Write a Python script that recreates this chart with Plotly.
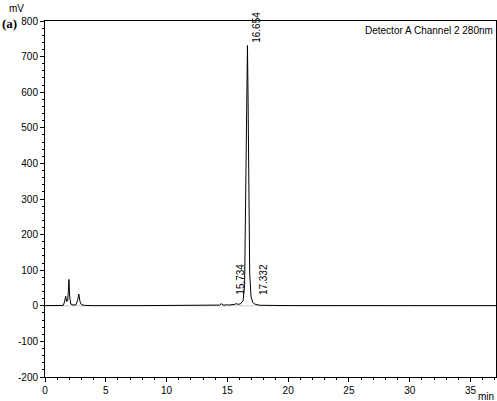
import plotly.graph_objects as go

# Chromatogram vertices (time in min, signal in mV)
time_min = [0.0, 1.0, 1.5, 1.6, 1.7, 1.78, 1.86, 1.92, 1.97, 2.03, 2.12, 2.3, 2.55, 2.68, 2.78, 2.88,
            3.0, 3.3, 4.0, 8.0, 14.0, 14.35, 14.5, 14.65, 14.9, 15.0, 15.1, 15.4, 15.6, 15.734,
            15.9, 16.1, 16.3, 16.42, 16.52, 16.6, 16.654, 16.7, 16.76, 16.84, 16.95, 17.1, 17.25,
            17.332, 17.45, 17.7, 18.5, 20.0, 30.0, 37.1]
signal_mv = [0.5, 0.5, 1.0, 10.0, 27.0, 12.0, 14.0, 40.0, 74.0, 25.0, 5.0, 2.0, 3.0, 15.0, 33.0, 12.0,
             3.0, 1.0, 0.5, 0.5, 0.8, 2.0, 6.0, 2.0, 2.0, 4.0, 2.0, 2.0, 4.0, 6.0,
             4.0, 6.0, 15.0, 60.0, 300.0, 620.0, 731.0, 600.0, 300.0, 90.0, 25.0, 9.0, 5.0,
             5.0, 3.0, 1.5, 1.0, 0.6, 0.5, 0.5]

peak_times = [15.734, 16.654, 17.332]
peak_labels = ["15.734", "16.654", "17.332"]
label_y = [25, 733, 25]
label_dx = [4, 9, 8]

x_ticks = [0, 5, 10, 15, 20, 25, 30, 35]
y_ticks = [-200, -100, 0, 100, 200, 300, 400, 500, 600, 700, 800]

FONT = "Liberation Sans, Arial"

fig = go.Figure()
fig.add_trace(go.Scatter(x=time_min, y=signal_mv, mode="lines",
                         line=dict(color="black", width=1), showlegend=False,
                         hoverinfo="skip"))

for t, lab, yv, dx in zip(peak_times, peak_labels, label_y, label_dx):
    fig.add_annotation(x=t, y=yv, text=lab, showarrow=False, textangle=-90,
                       xanchor="center", yanchor="bottom", xshift=dx,
                       font=dict(family=FONT, size=10, color="black"))

fig.add_annotation(xref="paper", yref="paper", x=0.997, y=0.995, text="Detector A Channel 2 280nm",
                   showarrow=False, xanchor="right", yanchor="top",
                   font=dict(family=FONT, size=10, color="black"))
fig.add_annotation(xref="paper", yref="paper", x=-0.084, y=1.0, text="mV", showarrow=False,
                   xanchor="left", yanchor="bottom", yshift=5,
                   font=dict(family=FONT, size=10, color="black"))
fig.add_annotation(xref="paper", yref="paper", x=-0.1, y=1.0, text="<b>(a)</b>", showarrow=False,
                   xanchor="left", yanchor="middle", yshift=-2,
                   font=dict(family="Liberation Serif, Times New Roman", size=13, color="black"))
fig.add_annotation(xref="paper", yref="paper", x=1.0, y=0.0, text="min", showarrow=False,
                   xanchor="right", yanchor="top", yshift=-12,
                   font=dict(family=FONT, size=10, color="black"))

axis_common = dict(showgrid=False, zeroline=False, showline=True, linecolor="black",
                   linewidth=1, mirror=True, ticks="outside", ticklen=4, tickcolor="black",
                   automargin=False,
                   tickfont=dict(family=FONT, size=10, color="black"))

fig.update_xaxes(range=[0, 37.1], tickmode="array", tickvals=x_ticks,
                 ticktext=[str(v) for v in x_ticks],
                 minor=dict(dtick=1, ticks="outside", ticklen=2, tickcolor="black", showgrid=False),
                 **axis_common)
fig.update_yaxes(range=[-200, 800], tickmode="array", tickvals=y_ticks,
                 ticktext=[str(v) for v in y_ticks],
                 minor=dict(dtick=20, tick0=0, ticks="outside", ticklen=2, tickcolor="black", showgrid=False),
                 **axis_common)

fig.add_shape(type="line", xref="paper", yref="y", x0=0, x1=1, y0=0, y1=0,
              line=dict(color="#cccccc", width=1), layer="below")

fig.update_layout(width=497, height=401, margin=dict(l=45, r=1, t=21, b=24),
                  plot_bgcolor="white", paper_bgcolor="white")

fig.write_html("out.html", config={"displayModeBar": False},
               post_script="document.body.style.margin='0';document.body.style.overflow='hidden';")
